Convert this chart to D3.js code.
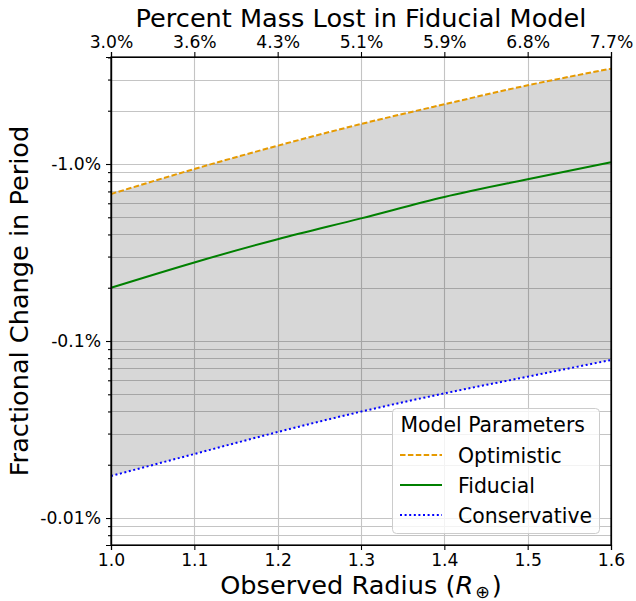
<!DOCTYPE html>
<html>
<head>
<meta charset="utf-8">
<script src="https://cdn.jsdelivr.net/npm/d3@7"></script>
<style>
  html, body { margin: 0; padding: 0; background: #fff; }
  svg { display: block; font-family: "DejaVu Sans", sans-serif; }
</style>
</head>
<body>
<svg id="chart" width="636" height="601"></svg>
<script>
// ---- data (fractional change in period, magnitude in percent) ----
const radius = [1.0, 1.1, 1.2, 1.3, 1.4, 1.5, 1.6];
const optimistic   = [0.677, 0.937, 1.269, 1.683, 2.175, 2.784, 3.455];
const fiducial     = [0.200, 0.278, 0.376, 0.493, 0.651, 0.820, 1.022];
const conservative = [0.01727, 0.0230, 0.0306, 0.0399, 0.0506, 0.0629, 0.0781];
const xTicks = [1.0, 1.1, 1.2, 1.3, 1.4, 1.5, 1.6];
const topTickLabels = ["3.0%", "3.6%", "4.3%", "5.1%", "5.9%", "6.8%", "7.7%"];
const yMajor = [0.01, 0.1, 1.0];
const yMajorLabels = ["-0.01%", "-0.1%", "-1.0%"];
const yDomain = [0.00704, 4.023];

const svg = d3.select("#chart");
const L = 111, T = 57, W = 500, H = 488;
const x = d3.scaleLinear().domain([1.0, 1.6]).range([L, L + W]);
const y = d3.scaleLog().domain(yDomain).range([T + H, T]);

// minor ticks
const yMinor = [];
for (let e = -3; e <= 1; e++) {
  for (let m = 2; m <= 9; m++) {
    const v = m * Math.pow(10, e);
    if (v > yDomain[0] && v < yDomain[1]) yMinor.push(v);
  }
}

const g = svg.append("g");
// grid
const gridColor = "#c4c4c4";
g.append("g").selectAll("line").data(yMajor.concat(yMinor)).join("line")
  .attr("x1", L).attr("x2", L + W)
  .attr("y1", d => Math.round(y(d)) + 0.5).attr("y2", d => Math.round(y(d)) + 0.5)
  .attr("stroke", gridColor).attr("stroke-width", 1.1);
g.append("g").selectAll("line").data(xTicks).join("line")
  .attr("x1", d => Math.round(x(d)) + 0.5).attr("x2", d => Math.round(x(d)) + 0.5)
  .attr("y1", T).attr("y2", T + H)
  .attr("stroke", gridColor).attr("stroke-width", 1.1);

// fill between
const pts = radius.map((r, i) => ({ r, hi: optimistic[i], lo: conservative[i] }));
const curve = d3.curveMonotoneX;
g.append("path")
  .attr("d", d3.area().x(d => x(d.r)).y0(d => y(d.lo)).y1(d => y(d.hi)).curve(curve)(pts))
  .attr("fill", "#000").attr("fill-opacity", 0.155);

// lines
const line = arr => d3.line().x((d, i) => x(radius[i])).y(d => y(d)).curve(curve)(arr);
g.append("path").attr("d", line(conservative)).attr("fill", "none")
  .attr("stroke", "#0000ff").attr("stroke-width", 2).attr("stroke-dasharray", "2,2.6");
g.append("path").attr("d", line(fiducial)).attr("fill", "none")
  .attr("stroke", "#008000").attr("stroke-width", 2);
g.append("path").attr("d", line(optimistic)).attr("fill", "none")
  .attr("stroke", "#e69a00").attr("stroke-width", 2).attr("stroke-dasharray", "5.5,2.4");

// axes
const tickFont = "17.2px";
const axBottom = svg.append("g").attr("transform", `translate(0,${T + H})`)
  .call(d3.axisBottom(x).tickValues(xTicks).tickFormat(d3.format(".1f")).tickSizeOuter(0).tickSize(5).tickPadding(4));
const axTop = svg.append("g").attr("transform", `translate(0,${T})`)
  .call(d3.axisTop(x).tickValues(xTicks).tickFormat((d, i) => topTickLabels[i]).tickSizeOuter(0).tickSize(5).tickPadding(4));
const axLeft = svg.append("g").attr("transform", `translate(${L},0)`)
  .call(d3.axisLeft(y).tickValues(yMajor).tickFormat((d, i) => yMajorLabels[i]).tickSizeOuter(0).tickSize(5).tickPadding(5));
svg.append("g").attr("transform", `translate(${L},0)`)
  .call(d3.axisLeft(y).tickValues(yMinor).tickFormat("").tickSizeOuter(0).tickSize(3));
svg.append("g").attr("transform", `translate(${L + W},0)`)
  .call(d3.axisRight(y).tickValues([]).tickSizeOuter(0));
[axBottom, axTop, axLeft].forEach(a => {
  a.selectAll("text").attr("font-size", tickFont).attr("fill", "#000")
    .attr("font-family", "DejaVu Sans");
});
svg.selectAll(".domain").attr("stroke", "#000").attr("stroke-width", 1.2);
svg.selectAll(".tick line").attr("stroke", "#000").attr("stroke-width", 1.1);

// frame
svg.append("rect").attr("x", L).attr("y", T).attr("width", W).attr("height", H)
  .attr("fill", "none").attr("stroke", "#000").attr("stroke-width", 1.2);

// titles
svg.append("text").attr("x", L + W / 2).attr("y", 27).attr("text-anchor", "middle")
  .attr("font-size", "25.6px").text("Percent Mass Lost in Fiducial Model");
const xl = svg.append("text").attr("x", L + W / 2).attr("y", 594).attr("text-anchor", "middle")
  .attr("font-size", "25.6px");
xl.append("tspan").text("Observed Radius (");
xl.append("tspan").attr("font-style", "italic").text("R");
xl.append("tspan").attr("font-size", "17.5px").attr("dy", 4).attr("dx", 2).text("\u2295");
xl.append("tspan").attr("dy", -4).attr("dx", 2).text(")");
svg.append("text").attr("transform", `translate(28,${T + H / 2}) rotate(-90)`)
  .attr("text-anchor", "middle").attr("font-size", "25.6px").text("Fractional Change in Period");

// legend
const lg = svg.append("g");
lg.append("rect").attr("x", 392.5).attr("y", 408.5).attr("width", 207).attr("height", 125)
  .attr("rx", 4).attr("fill", "#fff").attr("fill-opacity", 0.8)
  .attr("stroke", "#cccccc").attr("stroke-width", 1);
lg.append("text").attr("x", 400.5).attr("y", 432).attr("font-size", "20.4px").text("Model Parameters");
const entries = [
  { name: "Optimistic", color: "#e69a00", dash: "5.5,2.4" },
  { name: "Fiducial", color: "#008000", dash: null },
  { name: "Conservative", color: "#0000ff", dash: "2,2.6" }
];
entries.forEach((e, i) => {
  const yy = 455 + i * 30;
  lg.append("line").attr("x1", 400).attr("x2", 442).attr("y1", yy).attr("y2", yy)
    .attr("stroke", e.color).attr("stroke-width", 2).attr("stroke-dasharray", e.dash);
  lg.append("text").attr("x", 458).attr("y", yy + 7.5).attr("font-size", "20.4px").text(e.name);
});
</script>
</body>
</html>
